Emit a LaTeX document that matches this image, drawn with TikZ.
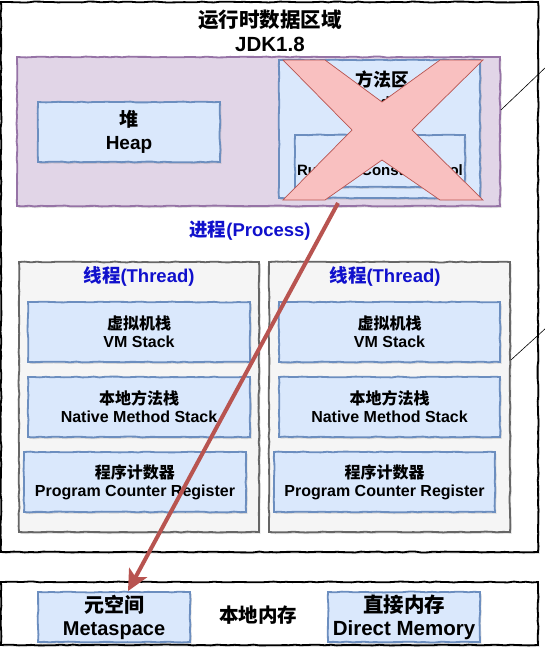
\documentclass[tikz,border=0pt]{standalone}
\usepackage{fontspec}
\setmainfont{Liberation Sans}
\newfontfamily\cjk{Noto Sans CJK SC}
\newcommand{\zh}[1]{{\cjk #1}}
\newcommand{\fsz}[2]{\fontsize{#1}{#2}\selectfont}
\usetikzlibrary{arrows.meta,shadows,decorations.pathmorphing}
\definecolor{bluefill}{HTML}{DAE8FC}
\definecolor{bluedraw}{HTML}{6C8EBF}
\definecolor{purplefill}{HTML}{E1D5E7}
\definecolor{purpledraw}{HTML}{9673A6}
\definecolor{greyfill}{HTML}{F5F5F5}
\definecolor{greydraw}{HTML}{666666}
\definecolor{pinkfill}{HTML}{F9C0C0}
\definecolor{reddraw}{HTML}{B85450}
\definecolor{labelblue}{HTML}{1010CC}
\begin{document}
\begin{tikzpicture}[x=1pt,y=-1pt,
  sketch/.style={decoration={random steps,segment length=6pt,amplitude=0.45pt},decorate},
  box/.style={sketch, rectangle, inner sep=0pt, align=center, line width=1.8pt,
    drop shadow={shadow xshift=1.5pt,shadow yshift=-1.8pt,opacity=0.25}},
  bluebox/.style={box, fill=bluefill, draw=bluedraw},
  purplebox/.style={box, fill=purplefill, draw=purpledraw},
  threadbox/.style={box, fill=greyfill, draw=greydraw},
  outerbox/.style={box, fill=white, draw=black},
  boxtext/.style={font=\fsz{16}{18}\bfseries},
  bluelabel/.style={font=\fsz{18.5}{22}\bfseries, text=labelblue},
  xmark/.style={fill=pinkfill, draw=reddraw, line width=0.7pt, line join=miter},
  redarrow/.style={draw=reddraw, line width=4pt,
    -{Stealth[length=21pt,width=20pt,inset=5pt]}},
  callout/.style={draw=black, line width=0.6pt}
]
\useasboundingbox (0,0) rectangle (544,651);

% runtime data area
\node[outerbox, minimum width=537pt, minimum height=550pt] (rda) at (269.5,277) {};
\node[font=\fsz{20.5}{24}\bfseries, align=center] (title) at (270,31)
  {\zh{运行时数据区域}\\JDK1.8};

% area shared by all threads
\node[purplebox, minimum width=483pt, minimum height=149pt] (shared) at (258.5,131.5) {};
\node[bluebox, minimum width=182pt, minimum height=60pt, font=\fsz{19}{23}\bfseries]
  (heap) at (129,132) {\zh{堆}\\Heap};
\node[bluebox, minimum width=201pt, minimum height=138pt] (method) at (379.5,129) {};
\node[font=\fsz{18}{21}\bfseries, align=center] (methodlbl) at (382,89)
  {\zh{方法区}\\\fsz{15}{21}Method Area};
\node[bluebox, minimum width=170pt, minimum height=52pt] (pool) at (380,161) {};
\node[font=\fsz{15}{18}\bfseries] (poollbl) at (380,170) {Runtime Constant Pool};

% the method area is crossed out
\filldraw[xmark] (283,60) -- (325,60) -- (382,102) -- (440,60) -- (483,60)
  -- (412,130) -- (483,200) -- (440,200) -- (382,160) -- (325,200)
  -- (283,200) -- (352,130) -- cycle;

\node[bluelabel] (proclbl) at (250,231) {\zh{进程}(Process)};

% thread 1
\node[threadbox, minimum width=240pt, minimum height=270pt] (t1) at (139,397) {};
\node[bluelabel] (t1lbl) at (139,276) {\zh{线程}(Thread)};
\node[bluebox, boxtext, minimum width=222pt, minimum height=60pt] (vm1) at (139,332)
  {\zh{虚拟机栈}\\VM Stack};
\node[bluebox, boxtext, minimum width=222pt, minimum height=60pt] (nm1) at (139,407)
  {\zh{本地方法栈}\\Native Method Stack};
\node[bluebox, boxtext, minimum width=222pt, minimum height=60pt] (pc1) at (135,482)
  {\zh{程序计数器}\\Program Counter Register};

% thread 2
\node[threadbox, minimum width=241pt, minimum height=270pt] (t2) at (389.5,397) {};
\node[bluelabel] (t2lbl) at (385,276) {\zh{线程}(Thread)};
\node[bluebox, boxtext, minimum width=221pt, minimum height=60pt] (vm2) at (389.5,332)
  {\zh{虚拟机栈}\\VM Stack};
\node[bluebox, boxtext, minimum width=221pt, minimum height=60pt] (nm2) at (389.5,407)
  {\zh{本地方法栈}\\Native Method Stack};
\node[bluebox, boxtext, minimum width=221pt, minimum height=60pt] (pc2) at (384.5,482)
  {\zh{程序计数器}\\Program Counter Register};

% native memory
\node[outerbox, minimum width=537pt, minimum height=63pt] (native) at (269.5,613.5) {};
\node[bluebox, minimum width=152pt, minimum height=50pt, font=\fsz{20}{23}\bfseries]
  (meta) at (114,617) {\zh{元空间}\\Metaspace};
\node[font=\fsz{19.5}{23}\bfseries] (nativelbl) at (258,615) {\zh{本地内存}};
\node[bluebox, minimum width=152pt, minimum height=50pt, font=\fsz{20.5}{23}\bfseries]
  (direct) at (404,617) {\zh{直接内存}\\Direct Memory};

% method area moved to metaspace
\coordinate (xfoot) at (338,203);
\draw[redarrow] (xfoot) -- ([xshift=14pt]meta.north);

% callout lines
\coordinate (callA) at (546,67);
\coordinate (callB) at (546,328);
\draw[callout] ([yshift=21.5pt]shared.east) -- (callA);
\draw[callout] ([yshift=37pt]t2.east) -- (callB);
\end{tikzpicture}
\end{document}
